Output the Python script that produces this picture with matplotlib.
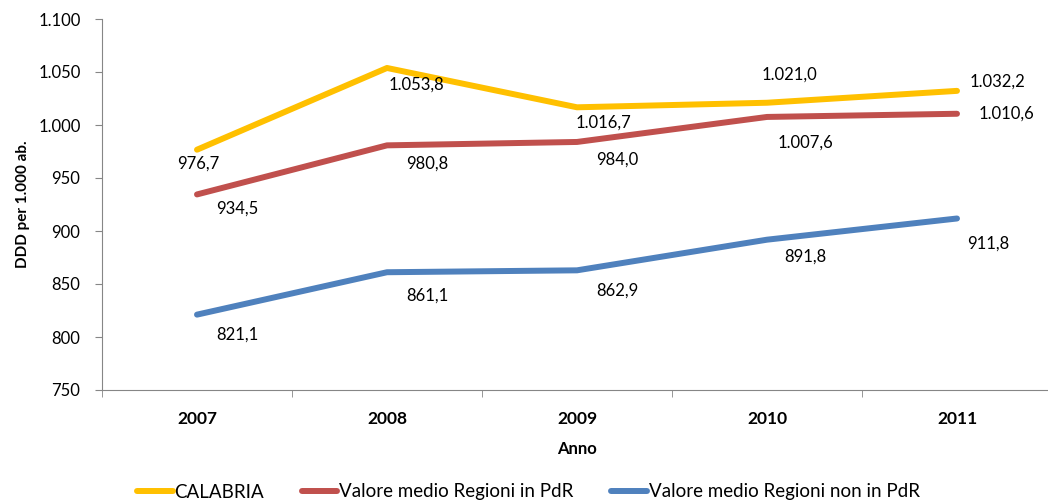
import matplotlib
matplotlib.use("Agg")
import matplotlib.pyplot as plt
from matplotlib.ticker import FixedLocator, FuncFormatter

years = ["2007", "2008", "2009", "2010", "2011"]
calabria = [976.7, 1053.8, 1016.7, 1021.0, 1032.2]
pdr = [934.5, 980.8, 984.0, 1007.6, 1010.6]
non_pdr = [821.1, 861.1, 862.9, 891.8, 911.8]
series_names = ["CALABRIA", "Valore medio Regioni in PdR", "Valore medio Regioni non in PdR"]
colors = ["#FFC000", "#C0504D", "#4F81BD"]

# label offsets in pixels (dx, dy) for each series point
offs = [
    [(1, -14), (29, -17), (26, -15), (22, 28), (40, 9)],
    [(40, -14), (40, -18), (40, -18), (38, -26), (49, 0)],
    [(40, -20), (40, -23), (40, -20), (38, -17), (31, -25)],
]

plt.rcParams['font.family'] = ['Lato', 'DejaVu Sans']
fig = plt.figure(figsize=(10.48, 5.04), dpi=100)
ax = fig.add_axes([102/1048, 1-390/504, 950/1048, 371/504])

x = list(range(len(years)))
for vals, name, c, off in zip([calabria, pdr, non_pdr], series_names, colors, offs):
    ax.plot(x, vals, color=c, lw=4.3, solid_capstyle='round', label=name)
    for xi, v, (dx, dy) in zip(x, vals, off):
        s = f"{v:,.1f}".replace(",", "X").replace(".", ",").replace("X", ".")
        ax.annotate(s, (xi, v), xytext=(dx, dy), textcoords='offset pixels',
                    ha='center', va='center', fontsize=12, color='black')

ax.set_xlim(-0.5, 4.5)
ax.set_ylim(750, 1100)
ax.set_yticks(range(750, 1101, 50))
ax.yaxis.set_major_formatter(FuncFormatter(lambda v, p: f"{int(v):,}".replace(",", ".")))
ax.set_xticks(x)
ax.set_xticklabels(years, fontweight='bold', fontsize=12.5)
ax.xaxis.set_minor_locator(FixedLocator([i - 0.5 for i in range(6)]))
ax.tick_params(axis='x', which='major', length=0, pad=15)
ax.tick_params(axis='x', which='minor', length=5, color='#868686', direction='out')
ax.tick_params(axis='y', length=5, color='#868686', labelsize=12, pad=10.5)
for s in ['top', 'right']:
    ax.spines[s].set_visible(False)
for s in ['left', 'bottom']:
    ax.spines[s].set_color('#868686')
ax.set_ylabel("DDD per 1.000 ab.", fontweight='bold', fontsize=11, labelpad=6)
ax.set_xlabel("Anno", fontweight='bold', fontsize=12, labelpad=10)

leg = fig.legend(loc='center left', bbox_to_anchor=(137/1048, 1-492/504), ncol=3, frameon=False,
                 fontsize=13.5, handlelength=1.9, handletextpad=0.1, columnspacing=2.0,
                 borderpad=0, borderaxespad=0)

fig.savefig("out.png", dpi=100)
